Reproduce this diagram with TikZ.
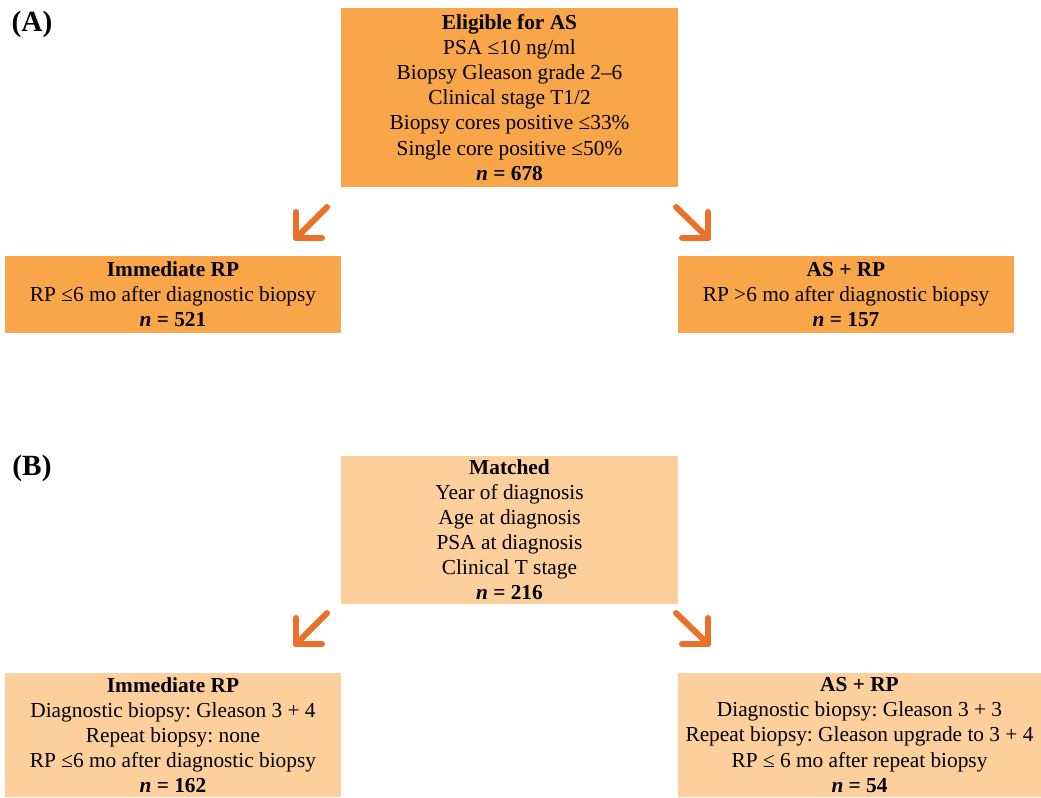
\documentclass[tikz,border=0pt]{standalone}
\usepackage{fontspec}
\setmainfont{Liberation Serif}
\definecolor{corange}{RGB}{249,166,74}
\definecolor{cpeach}{RGB}{252,207,156}
\definecolor{carrow}{RGB}{233,113,42}
\frenchspacing

\begin{document}
\begin{tikzpicture}[x=0.75pt,y=-0.75pt,
        box/.style={inner sep=0pt,align=center,font=\fontsize{16}{18.8}\selectfont},
        darkbox/.style={box,fill=corange},
        lightbox/.style={box,fill=cpeach},
        panel/.style={font=\fontsize{22}{26}\selectfont\bfseries},
        bigarrow/.style={carrow,line width=4.5pt,line cap=round,line join=round}]
      \useasboundingbox (0,0) rectangle (1041,797);
      % panel A
      \node[panel] (labA) at (32,24) {(A)};
      \node[darkbox,minimum width=252.75pt,minimum height=134.25pt] (eligible) at (509.5,97.5)
        {\textbf{Eligible for AS}\\PSA ≤10 ng/ml\\Biopsy Gleason grade 2–6\\Clinical stage T1/2\\
         Biopsy cores positive ≤33\%\\Single core positive ≤50\%\\\textbf{\textit{n} = 678}};
      \node[darkbox,minimum width=252pt,minimum height=57.75pt] (immA) at (173,294.5)
        {\textbf{Immediate RP}\\RP ≤6 mo after diagnostic biopsy\\\textbf{\textit{n} = 521}};
      \node[darkbox,minimum width=252pt,minimum height=57.75pt] (asrpA) at (846,294.5)
        {\textbf{AS + RP}\\RP >6 mo after diagnostic biopsy\\\textbf{\textit{n} = 157}};
      % panel B
      \node[panel] (labB) at (32,468) {(B)};
      \node[lightbox,minimum width=252.75pt,minimum height=111pt] (matched) at (509.5,530)
        {\textbf{Matched}\\Year of diagnosis\\Age at diagnosis\\PSA at diagnosis\\Clinical T stage\\
         \textbf{\textit{n} = 216}};
      \node[lightbox,minimum width=252pt,minimum height=93pt] (immB) at (173,735)
        {\textbf{Immediate RP}\\Diagnostic biopsy: Gleason 3 + 4\\Repeat biopsy: none\\
         RP ≤6 mo after diagnostic biopsy\\\textbf{\textit{n} = 162}};
      \node[lightbox,minimum width=272.25pt,minimum height=93pt] (asrpB) at (859.5,735)
        {\textbf{AS + RP}\\Diagnostic biopsy: Gleason 3 + 3\\Repeat biopsy: Gleason upgrade to 3 + 4\\
         RP ≤ 6 mo after repeat biopsy\\\textbf{\textit{n} = 54}};
      % arrows
      \foreach \p/\dy in {A/0,B/406} {
        \coordinate (ltail\p) at (327,{207+\dy});
        \coordinate (ltip\p) at (296,{238+\dy});
        \coordinate (rtail\p) at (676,{207+\dy});
        \coordinate (rtip\p) at (708,{238+\dy});
        \draw[bigarrow] (ltail\p) -- (ltip\p);
        \draw[bigarrow] (ltip\p) ++(0,-26) -- ++(0,26) -- ++(26,0);
        \draw[bigarrow] (rtail\p) -- (rtip\p);
        \draw[bigarrow] (rtip\p) ++(0,-26) -- ++(0,26) -- ++(-26,0);
      }
    \end{tikzpicture}
\end{document}
